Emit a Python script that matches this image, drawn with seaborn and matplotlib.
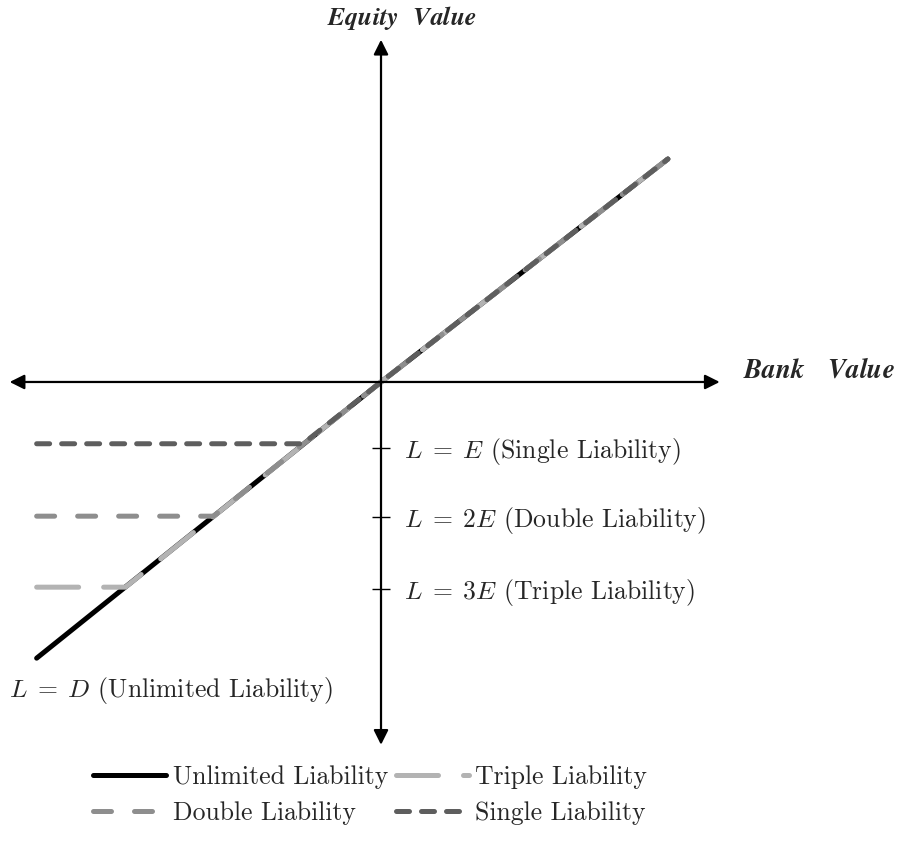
import matplotlib
matplotlib.use("Agg")
import matplotlib.pyplot as plt
import numpy as np
import pandas as pd
import seaborn as sns

# series (bank value, equity value)
unlimited_x = [-4.85, 0.0, 4.04]
unlimited_y = [-3.89, 0.0, 3.14]
triple_x = [-4.85, -3.60, 0.0, 4.04]
triple_y = [-2.89, -2.89, 0.0, 3.14]
double_x = [-4.85, -2.36, 0.0, 4.04]
double_y = [-1.89, -1.89, 0.0, 3.14]
single_x = [-4.85, -1.10, 0.0, 4.04]
single_y = [-0.87, -0.87, 0.0, 3.14]

tick_levels = [-0.93, -1.90, -2.92]
tick_labels = [r"$L\;=\;E$ (Single Liability)", r"$L\;=\;2E$ (Double Liability)",
               r"$L\;=\;3E$ (Triple Liability)"]

sns.set_theme(style="white")
plt.rcParams["font.family"] = ["cmr10", "DejaVu Serif"]
plt.rcParams["mathtext.fontset"] = "cm"
plt.rcParams["axes.formatter.use_mathtext"] = True

fig = plt.figure(figsize=(9.07, 8.41), dpi=100)
ax = fig.add_axes([0, 0, 1, 1])
ax.set_xlim(-5.366, 7.408)
ax.set_ylim(-6.465, 5.38)
ax.axis("off")

lw = 3.6
fs = 18.5
series = [
    ("Unlimited Liability", unlimited_x, unlimited_y, "black", "-"),
    ("Triple Liability", triple_x, triple_y, "#b3b3b3", (0, (8.4, 5.0))),
    ("Double Liability", double_x, double_y, "#8e8e8e", (0, (3.6, 4.6))),
    ("Single Liability", single_x, single_y, "#5e5e5e", (0, (2.6, 2.4))),
]
for name, xs, ys, col, ls in series:
    df = pd.DataFrame({"x": xs, "y": ys})
    sns.lineplot(data=df, x="x", y="y", ax=ax, sort=False, estimator=None,
                 color=col, lw=lw, linestyle=ls, label=name,
                 solid_capstyle="round", dash_capstyle="round")

# axes with arrows
arrow = dict(arrowstyle="<|-|>", color="black", lw=1.6, mutation_scale=22,
             shrinkA=0, shrinkB=0)
ax.annotate("", xy=(4.77, 0), xytext=(-5.23, 0), arrowprops=arrow)
ax.annotate("", xy=(0, 4.82), xytext=(0, -5.11), arrowprops=arrow)

ax.hlines(tick_levels, -0.13, 0.13, color="black", lw=1.0)
for lev, lab in zip(tick_levels, tick_labels):
    ax.text(0.33, lev - 0.05, lab, fontsize=fs, va="center", ha="left")

ax.text(-5.24, -4.34, r"$L\;=\;D$ (Unlimited Liability)", fontsize=fs,
        va="center", ha="left")

ax.text(0.3, 5.13, r"$\mathbfit{Equity\ \ Value}$", fontsize=18.5,
        ha="center", va="center")
ax.text(5.1, 0.17, r"$\mathbfit{Bank\ \ \ Value}$", fontsize=19.5,
        ha="left", va="center")

handles, labels = ax.get_legend_handles_labels()
order = [0, 2, 1, 3]
fig.legend([handles[i] for i in order], [labels[i] for i in order],
           loc="upper left", bbox_to_anchor=(70 / 907, 1 - 742 / 841),
           ncol=2, frameon=False, fontsize=fs, handlelength=2.85,
           handletextpad=0.25, columnspacing=0.3, labelspacing=0.5)
ax.get_legend().remove()

fig.savefig("out.png", dpi=100, facecolor="white")
